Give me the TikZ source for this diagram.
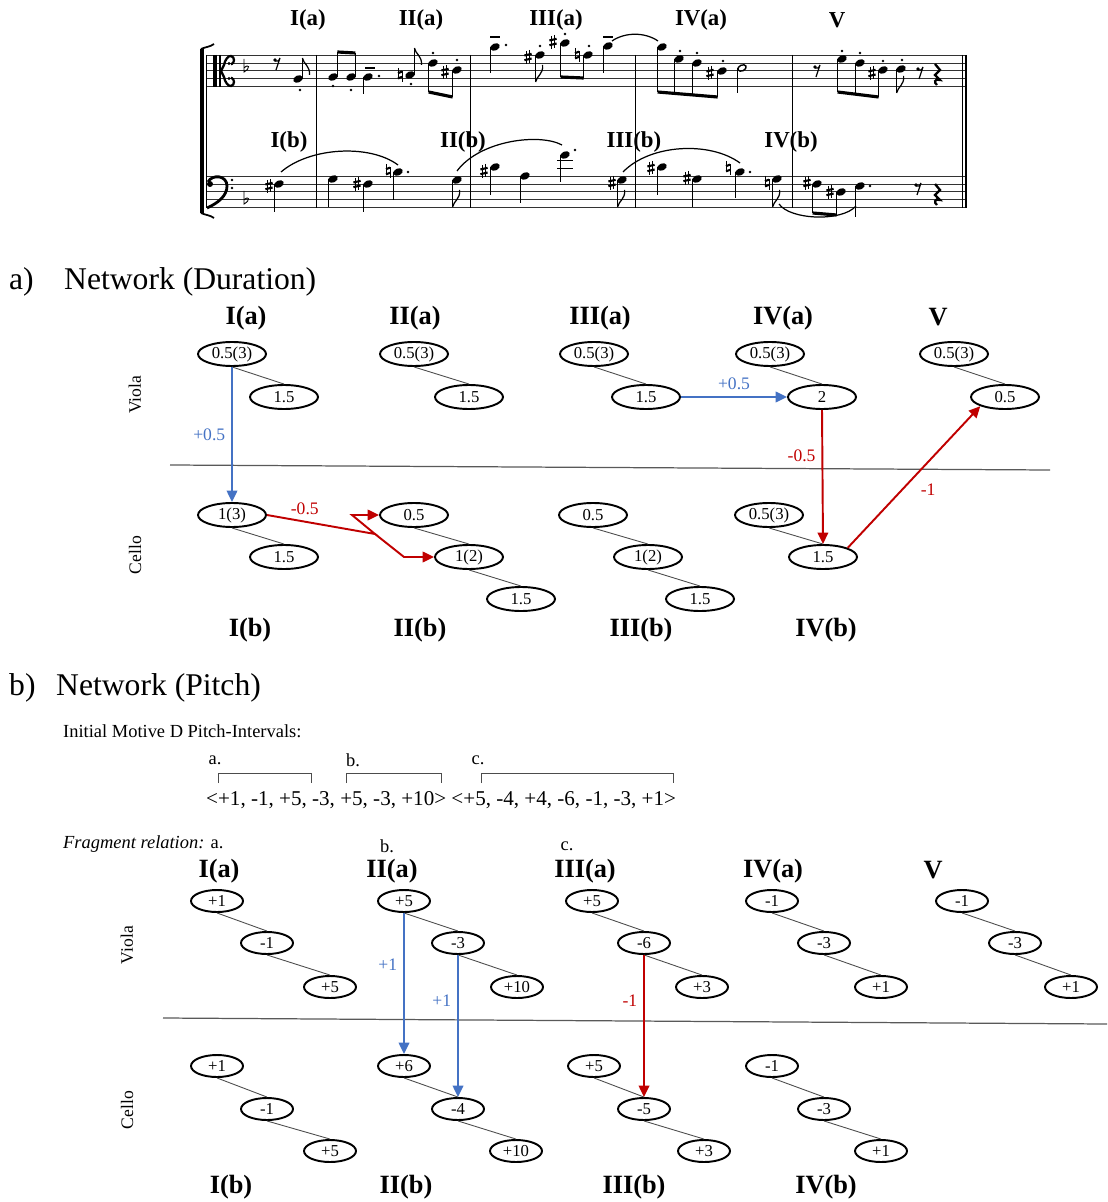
\documentclass[tikz,border=0pt]{standalone}
\usepackage{fontspec}
\setmainfont{Liberation Serif}
\usetikzlibrary{shapes.geometric, arrows.meta, positioning}

\definecolor{arrblue}{RGB}{68,114,196}
\definecolor{arrred}{RGB}{192,0,0}

% score glyphs, in pixel units
\newcommand{\mhead}[2]{\fill[rotate around={25:(#1,#2)}] (#1,#2) ellipse (5 and 3.5);}
\newcommand{\mhalf}[2]{\draw[line width=0.8pt, rotate around={25:(#1,#2)}] (#1,#2) ellipse (4.4 and 2.9);}
\newcommand{\mstemd}[3]{\draw[stem] (#1-4.4,#2) -- (#1-4.4,#3);}
\newcommand{\mstemu}[3]{\draw[stem] (#1+4.4,#2) -- (#1+4.4,#3);}
\newcommand{\mflagd}[2]{\draw[line width=0.7pt] (#1,#2) .. controls (#1+1,#2-6) and (#1+8,#2-8) .. (#1+7,#2-17);}
\newcommand{\mflagu}[2]{\draw[line width=0.7pt] (#1,#2) .. controls (#1+1,#2+6) and (#1+8,#2+8) .. (#1+7,#2+17);}
\newcommand{\mbeam}[4]{\draw[line width=1.8pt] (#1,#2) -- (#3,#4);}
\newcommand{\mdot}[2]{\fill (#1,#2) circle (1.3);}
\newcommand{\mten}[2]{\draw[line width=0.6pt] (#1-5,#2) -- (#1+5,#2);}
\newcommand{\msharp}[2]{%
  \draw[line width=0.45pt] (#1-1.6,#2-6) -- (#1-1.6,#2+7) (#1+1.6,#2-7) -- (#1+1.6,#2+6);
  \draw[line width=1.2pt] (#1-3.6,#2-1.5) -- (#1+3.6,#2-3.2) (#1-3.6,#2+3.2) -- (#1+3.6,#2+1.5);}
\newcommand{\mnat}[2]{%
  \draw[line width=0.45pt] (#1-2,#2-7) -- (#1-2,#2+3.5) (#1+2,#2-3.5) -- (#1+2,#2+7);
  \draw[line width=1.2pt] (#1-2,#2-1.8) -- (#1+2,#2-3.4) (#1-2,#2+3.4) -- (#1+2,#2+1.8);}
\newcommand{\mflat}[2]{%
  \draw[line width=0.5pt] (#1-2,#2-10) -- (#1-2,#2+3) .. controls (#1+5,#2-1) and (#1+3,#2-6) .. (#1-2,#2-1);}
\newcommand{\mrest}[2]{%
  \fill (#1-2,#2-3) circle (1.8);
  \draw[line width=0.7pt] (#1-2,#2-2) .. controls (#1,#2-1) and (#1+2,#2-2) .. (#1+3,#2-5) -- (#1-1,#2+7);}
\newcommand{\mqrest}[2]{%
  \draw[line width=1.3pt] (#1-2,#2-9) -- (#1+3,#2-3) -- (#1-2,#2+2) -- (#1+3,#2+7)
    .. controls (#1-3,#2+5) and (#1-3,#2+10) .. (#1,#2+12);}

\begin{document}
\begin{tikzpicture}[
    x=0.02cm, y=-0.02cm,
    staffline/.style={line width=0.4pt, black!80},
    barl/.style={line width=0.55pt},
    stem/.style={line width=0.55pt},
    mlbl/.style={font=\fontsize{13}{15}\selectfont\bfseries},
    hdr/.style={font=\fontsize{15}{17}\selectfont\bfseries},
    title/.style={font=\fontsize{18}{20}\selectfont, anchor=west},
    small/.style={font=\fontsize{10.5}{12}\selectfont},
    part/.style={font=\fontsize{10}{12}\selectfont, rotate=90},
    dnode/.style={draw, ellipse, line width=1.1pt, minimum width=1.36cm, minimum height=0.48cm,
        inner sep=0pt, font=\fontsize{9.5}{10}\selectfont},
    pnode/.style={draw, ellipse, line width=1.1pt, minimum width=1.04cm, minimum height=0.44cm,
        inner sep=0pt, font=\fontsize{9.5}{10}\selectfont},
    link/.style={draw=black!70, line width=0.5pt},
    divider/.style={draw=black!65, line width=0.7pt},
    bluearr/.style={-{Triangle[length=6.5pt,width=6pt]}, draw=arrblue, line width=1.1pt},
    redarr/.style={-{Triangle[length=6.5pt,width=6pt]}, draw=arrred, line width=1.1pt},
    blbl/.style={font=\fontsize{10}{12}\selectfont, text=arrblue},
    rlbl/.style={font=\fontsize{10}{12}\selectfont, text=arrred}
]
\useasboundingbox (0,0) rectangle (1107,1202);

%% ---------- score ----------
\foreach \s in {55,176}
  \foreach \k in {0,...,4}
    \draw[staffline] (206,\s+7.9*\k) -- (966,\s+7.9*\k);
\foreach \bx in {316,470,635,792,962}
  \draw[barl] (\bx,55) -- (\bx,207.6);
\draw[line width=1pt] (966,55) -- (966,207.6);
\draw[barl] (206,55) -- (206,207.6);
% bracket
\draw[line width=2.2pt] (202,49) -- (202,213);
\draw[line width=1pt] (201,49) .. controls (205,47) and (210,47) .. (214,44);
\draw[line width=1pt] (201,213) .. controls (205,215) and (210,215) .. (214,218);
% alto clef
\draw[line width=2.2pt] (215,55) -- (215,86.6);
\draw[line width=0.6pt] (220,55) -- (220,86.6);
\draw[line width=1.3pt] (221,71) -- (224,65) .. controls (225,60) and (228,55.5) .. (231,56)
    .. controls (235,57) and (235,63) .. (231,64.5);
\draw[line width=1.3pt] (221,71) -- (224,77) .. controls (225,82) and (228,86.5) .. (231,86)
    .. controls (235,85) and (235,79) .. (231,77.5);
\fill (229,63.5) circle (1.6);
\fill (229,78.5) circle (1.6);
% bass clef
\fill (210,184) circle (3);
\draw[line width=1.6pt] (208,182) .. controls (212,174) and (227,175) .. (227,186)
    .. controls (227,196) and (218,203) .. (207,208);
\mdot{232}{180}\mdot{232}{188}
% key signatures
\mflat{246}{69}\mflat{246}{201}

% viola
\mrest{277}{63}
\mhead{298}{79}\mstemu{298}{79}{58}\mflagu{302.4}{58}\mdot{300}{90}
\mhead{333}{77}\mstemu{333}{77}{52}\mhead{351}{77}\mstemu{351}{77}{53}
\mbeam{337.4}{52}{355.4}{53}\mdot{333}{86}\mdot{351}{90}
\mhead{368}{77}\mstemd{368}{77}{94}\mten{370}{68}\mdot{379}{76}
\mnat{400}{75}\mhead{410}{75}\mstemu{410}{75}{48}\mflagu{414.4}{48}\mdot{411}{84}
\mhead{433}{63}\mstemd{433}{63}{92}\msharp{445}{72}\mhead{457}{70}\mstemd{457}{70}{97}
\mbeam{428.6}{92}{452.6}{97}\mdot{433}{53}\mdot{457}{60}
\mhead{495}{47}\mstemd{495}{47}{73}\mten{495}{37}\mdot{506}{45}
\msharp{528}{57}\mhead{540}{55}\mstemd{540}{55}{82}\mflagd{535.6}{82}\mdot{540}{46}
\msharp{553}{42}\mhead{565}{43}\mstemd{565}{43}{77}\mnat{577}{55}\mhead{588}{55}\mstemd{588}{55}{78}
\mbeam{560.6}{77}{583.6}{78}\mdot{565}{34}\mdot{589}{46}
\mhead{608}{46}\mstemd{608}{46}{73}\mten{608}{37}
\draw[line width=0.7pt] (612,41) .. controls (625,32) and (645,32) .. (658,41);
\mhead{662}{47}\mstemd{662}{47}{92}\mhead{679}{59}\mstemd{679}{59}{93.5}
\mhead{697}{63}\mstemd{697}{63}{95}\msharp{710}{73}\mhead{722}{71}\mstemd{722}{71}{97}
\mbeam{657.6}{92}{717.6}{97}\mdot{680}{51}\mdot{697}{53}\mdot{723}{61}
\mhalf{742}{68}\mstemd{742}{68}{93}
\mrest{817}{70}
\mhead{842}{59}\mstemd{842}{59}{92}\mhead{860}{63}\mstemd{860}{63}{94}
\msharp{872}{73}\mhead{883}{70}\mstemd{883}{70}{97}
\mbeam{837.6}{92}{878.6}{97}\mdot{842}{51}\mdot{860}{53}\mdot{883}{61}
\mhead{901}{69}\mstemd{901}{69}{93}\mflagd{896.6}{93}\mdot{902}{60}
\mrest{920}{72}\mqrest{937}{73}

% cello
\msharp{269}{186}\mhead{279}{184}\mstemd{279}{184}{212}
\draw[line width=0.7pt] (281,172) .. controls (310,147) and (370,144) .. (398,165);
\mhead{333}{179}\mstemd{333}{179}{207}
\msharp{357}{184}\mhead{368}{184}\mstemd{368}{184}{212}
\mnat{388}{171}\mhead{398}{172}\mstemd{398}{172}{200}\mdot{408}{172}
\mhead{457}{180}\mstemd{457}{180}{207}\mflagd{452.6}{207}
\draw[line width=0.7pt] (457,171) .. controls (480,140) and (540,133) .. (562,145);
\msharp{484}{171}\mhead{495}{167}\mstemd{495}{167}{195}
\mhead{525}{176}\mstemd{525}{176}{203}
\draw[line width=0.5pt] (557,168) -- (573,168) (557,160) -- (573,160);
\mhead{565}{155}\mstemd{565}{155}{182}\mdot{575}{150}
\msharp{612}{183}\mhead{622}{180}\mstemd{622}{180}{207}\mflagd{617.6}{207}
\draw[line width=0.7pt] (623,172) .. controls (650,144) and (710,141) .. (740,163);
\msharp{651}{168}\mhead{662}{167}\mstemd{662}{167}{195}
\msharp{687}{178}\mhead{697}{179}\mstemd{697}{179}{207}
\mnat{728}{168}\mhead{740}{172}\mstemd{740}{172}{198}\mdot{750}{172}
\mnat{767}{183}\mhead{777}{179}\mstemd{777}{179}{207}\mflagd{772.6}{207}
\draw[line width=0.7pt] (779,204) .. controls (790,220) and (842,222) .. (856,206);
\msharp{807}{183}\mhead{817}{184}\mstemd{817}{184}{213}
\msharp{830}{192}\mhead{841}{192}\mstemd{841}{192}{215}
\mbeam{812.6}{213}{836.6}{215}
\mhead{860}{186}\mstemd{860}{186}{217}\mdot{870}{186}
\mrest{918}{188}\mqrest{937}{193}

% score labels
\node[mlbl] (sIa) at (308,20) {I(a)};
\node[mlbl] (sIIa) at (421,20) {II(a)};
\node[mlbl] (sIIIa) at (556,20) {III(a)};
\node[mlbl] (sIVa) at (701,20) {IV(a)};
\node[mlbl] (sV) at (837,20) {V};
\node[mlbl] (sIb) at (289,142) {I(b)};
\node[mlbl] (sIIb) at (463,142) {II(b)};
\node[mlbl] (sIIIb) at (634,142) {III(b)};
\node[mlbl] (sIVb) at (791,142) {IV(b)};

%% ---------- a) duration ----------
\node[title] (tA) at (3,282) {a)};
\node[title] (tAname) at (58,282) {Network (Duration)};
\node[hdr] (dhIa) at (246,318) {I(a)};
\node[hdr] (dhIIa) at (415,318) {II(a)};
\node[hdr] (dhIIIa) at (600,318) {III(a)};
\node[hdr] (dhIVa) at (783,318) {IV(a)};
\node[hdr] (dhV) at (938,317) {V};
\node[part] (dViola) at (135,395) {Viola};
\node[part] (dCello) at (135,555) {Cello};

% viola
\node[dnode] (dIa1) at (232,354) {0.5(3)};
\node[dnode] (dIa2) at (284,397) {1.5};
\node[dnode] (dIIa1) at (414,354) {0.5(3)};
\node[dnode] (dIIa2) at (469,397) {1.5};
\node[dnode] (dIIIa1) at (594,354) {0.5(3)};
\node[dnode] (dIIIa2) at (646,397) {1.5};
\node[dnode] (dIVa1) at (770,354) {0.5(3)};
\node[dnode] (dIVa2) at (822,397) {2};
\node[dnode] (dVa1) at (954,354) {0.5(3)};
\node[dnode] (dVa2) at (1005,397) {0.5};
\foreach \m in {I,II,III,IV,V}
  \draw[link] (d\m a1.south) -- (d\m a2.north);

% cello
\node[dnode] (dIb1) at (232,515) {1(3)};
\node[dnode] (dIb2) at (284,557) {1.5};
\node[dnode] (dIIb1) at (414,515) {0.5};
\node[dnode] (dIIb2) at (469,557) {1(2)};
\node[dnode] (dIIb3) at (521,599) {1.5};
\node[dnode] (dIIIb1) at (593,515) {0.5};
\node[dnode] (dIIIb2) at (648,557) {1(2)};
\node[dnode] (dIIIb3) at (700,599) {1.5};
\node[dnode] (dIVb1) at (769,515) {0.5(3)};
\node[dnode] (dIVb2) at (823,557) {1.5};
\foreach \m in {I,II,III,IV}
  \draw[link] (d\m b1.south) -- (d\m b2.north);
\draw[link] (dIIb2.south) -- (dIIb3.north);
\draw[link] (dIIIb2.south) -- (dIIIb3.north);

\node[hdr] (dhIb) at (250,630) {I(b)};
\node[hdr] (dhIIb) at (420,630) {II(b)};
\node[hdr] (dhIIIb) at (641,630) {III(b)};
\node[hdr] (dhIVb) at (826,630) {IV(b)};

\draw[divider] (170,465) -- (1050,470);

% relations
\draw[bluearr] (dIa1.south) -- node[midway, left, blbl] {+0.5} (dIb1.north);
\coordinate (zu) at (352,515);
\coordinate (zj) at (375,534);
\coordinate (zd) at (404,557);
\draw[redarr] (dIb1.east) -- node[pos=0.35, above, rlbl] {-0.5} (zj) -- (zu) -- (dIIb1.west);
\draw[redarr] (zj) -- (zd) -- (dIIb2.west);
\draw[bluearr] (dIIIa2.east) -- node[midway, above, blbl] {+0.5} (dIVa2.west);
\draw[redarr] (dIVa2.south) -- node[pos=0.34, left, rlbl] {-0.5} (dIVb2.north);
\draw[redarr] (dIVb2.north east) -- node[midway, below right, rlbl] {-1} (dVa2.south west);

%% ---------- b) pitch ----------
\node[title] (tB) at (3,688) {b)};
\node[title] (tBname) at (50,688) {Network (Pitch)};
\node[small, anchor=west] (motive) at (57,731) {Initial Motive D Pitch-Intervals:};
\node[small] (fa) at (215,760) {a.};
\node[small] (fb) at (353,760) {b.};
\node[small] (fc) at (478,760) {c.};
\draw[link] (218,783) -- (218,773) -- (311,773) -- (311,783);
\draw[link] (346,783) -- (346,773) -- (441,773) -- (441,783);
\draw[link] (481,783) -- (481,773) -- (673,773) -- (673,783);
\node[font=\fontsize{12}{14}\selectfont, anchor=west] (seq) at (200,800)
  {<+1, -1, +5, -3, +5, -3, +10> <+5, -4, +4, -6, -1, -3, +1>};
\node[small, anchor=west] (frag) at (57,844) {\itshape Fragment relation:\upshape{} a.};
\node[small] (frb) at (387,846) {b.};
\node[small] (frc) at (567,846) {c.};

\node[hdr] (phIa) at (219,871) {I(a)};
\node[hdr] (phIIa) at (392,871) {II(a)};
\node[hdr] (phIIIa) at (585,871) {III(a)};
\node[hdr] (phIVa) at (773,871) {IV(a)};
\node[hdr] (phV) at (933,870) {V};
\node[part] (pViola) at (127,945) {Viola};
\node[part] (pCello) at (127,1110) {Cello};

\foreach \m/\xa/\xb/\xc/\ta/\tb/\tc in {I/217/267/330/+1/-1/+5, II/404/458/517/+5/-3/+10,
    III/592/644/702/+5/-6/+3, IV/772/824/881/-1/-3/+1, V/962/1015/1071/-1/-3/+1} {
  \node[pnode] (pv\m1) at (\xa,901) {\ta};
  \node[pnode] (pv\m2) at (\xb,943) {\tb};
  \node[pnode] (pv\m3) at (\xc,987) {\tc};
  \draw[link] (pv\m1.south) -- (pv\m2.north);
  \draw[link] (pv\m2.south) -- (pv\m3.north);
}
\foreach \m/\xa/\xb/\xc/\ta/\tb/\tc in {I/217/267/330/+1/-1/+5, II/404/458/516/+6/-4/+10,
    III/594/644/704/+5/-5/+3, IV/772/824/881/-1/-3/+1} {
  \node[pnode] (pc\m1) at (\xa,1066) {\ta};
  \node[pnode] (pc\m2) at (\xb,1109) {\tb};
  \node[pnode] (pc\m3) at (\xc,1151) {\tc};
  \draw[link] (pc\m1.south) -- (pc\m2.north);
  \draw[link] (pc\m2.south) -- (pc\m3.north);
}

\node[hdr] (phIb) at (231,1187) {I(b)};
\node[hdr] (phIIb) at (406,1187) {II(b)};
\node[hdr] (phIIIb) at (634,1187) {III(b)};
\node[hdr] (phIVb) at (826,1187) {IV(b)};

\draw[divider] (163,1018) -- (1107,1024);

\draw[bluearr] (pvII1.south) -- node[pos=0.37, left, blbl] {+1} (pcII1.north);
\draw[bluearr] (pvII2.south) -- node[pos=0.32, left, blbl] {+1} (pcII2.north);
\draw[redarr] (pvIII2.south) -- node[pos=0.32, left, rlbl] {-1} (pcIII2.north);
\end{tikzpicture}
\end{document}
